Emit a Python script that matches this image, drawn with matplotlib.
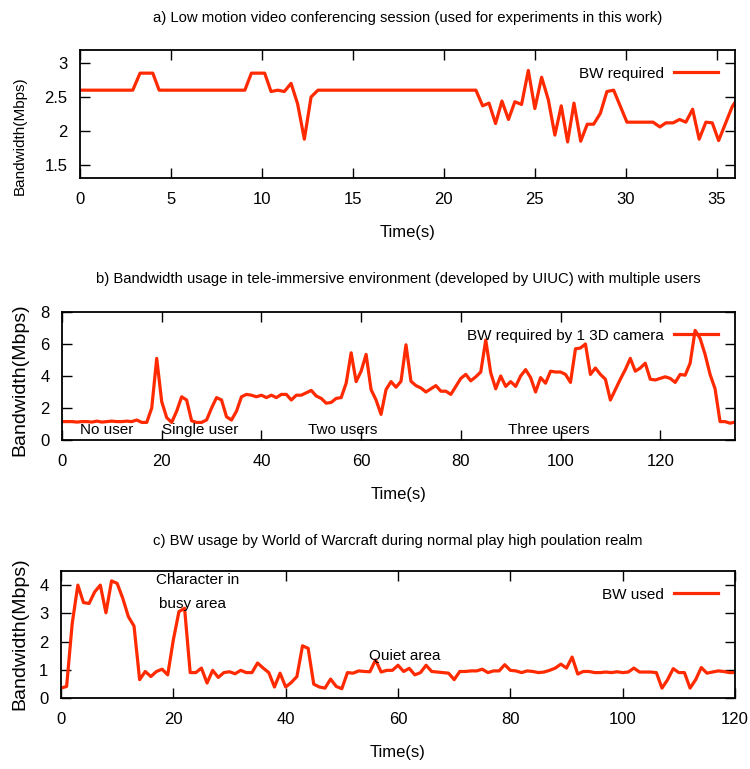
import matplotlib
matplotlib.use("Agg")
import matplotlib.pyplot as plt
from matplotlib.ticker import FuncFormatter

plt.rcParams['font.family'] = ['Liberation Sans Narrow', 'Liberation Sans', 'DejaVu Sans']

# a) video conferencing session
time_a = [0, 2.9, 3.3, 4.0, 4.35, 9.06, 9.42, 10.15, 10.5, 10.87, 11.23, 11.6,
          11.96, 12.33, 12.7, 13.08, 21.76, 22.13, 22.48, 22.84, 23.19, 23.55,
          23.9, 24.27, 24.64, 25.0, 25.37, 25.74, 26.1, 26.45, 26.8, 27.15,
          27.52, 27.88, 28.23, 28.6, 28.96, 29.33, 30.06, 31.5, 31.87, 32.2,
          32.6, 32.95, 33.3, 33.67, 34.03, 34.4, 34.75, 35.1, 35.85, 36.2]
bw_a = [2.6, 2.6, 2.85, 2.85, 2.6, 2.6, 2.85, 2.85, 2.58, 2.6, 2.58, 2.7,
        2.4, 1.88, 2.5, 2.6, 2.6, 2.37, 2.41, 2.11, 2.44, 2.17,
        2.43, 2.39, 2.89, 2.33, 2.79, 2.46, 1.94, 2.37, 1.84, 2.41,
        1.85, 2.1, 2.1, 2.26, 2.58, 2.6, 2.13, 2.13, 2.06, 2.12,
        2.12, 2.17, 2.13, 2.32, 1.88, 2.13, 2.12, 1.86, 2.36, 2.5]

# b) tele-immersive environment, one sample per second
time_b = list(range(0, 136))
bw_b = [1.15, 1.15, 1.15, 1.12, 1.15, 1.15, 1.12, 1.18, 1.12, 1.15,
        1.18, 1.15, 1.15, 1.18, 1.15, 1.25, 1.1, 1.1, 2.0, 5.1,
        2.4, 1.4, 1.1, 1.8, 2.7, 2.5, 1.2, 1.1, 1.1, 1.25,
        2.0, 2.65, 2.5, 1.45, 1.25, 1.8, 2.7, 2.85, 2.8, 2.7,
        2.8, 2.65, 2.8, 2.65, 2.85, 2.85, 2.5, 2.8, 2.8, 2.95,
        3.1, 2.75, 2.6, 2.3, 2.35, 2.6, 2.65, 3.55, 5.45, 3.65,
        4.3, 5.35, 3.15, 2.5, 1.6, 3.15, 3.65, 3.3, 3.67, 5.95,
        3.67, 3.4, 3.25, 3.0, 3.2, 3.4, 3.05, 3.05, 2.85, 3.35,
        3.85, 4.1, 3.7, 3.95, 4.25, 6.25, 4.2, 3.2, 4.0, 3.35,
        3.65, 3.35, 4.0, 4.4, 3.9, 3.0, 3.9, 3.55, 4.3, 4.25,
        4.25, 4.1, 3.6, 5.7, 5.75, 6.0, 4.1, 4.5, 4.1, 3.8,
        2.5, 3.15, 3.8, 4.4, 5.1, 4.3, 4.5, 4.8, 3.8, 3.75,
        3.85, 3.95, 3.85, 3.6, 4.1, 4.05, 4.8, 6.85, 6.35, 5.35,
        4.1, 3.2, 1.15, 1.15, 1.05, 1.12]
labels_b = ['No user', 'Single user', 'Two users', 'Three users']
label_x_b = [9, 27.7, 56.4, 97.6]

# c) World of Warcraft, one sample per second
time_c = list(range(0, 121))
bw_c = [0.35, 0.41, 2.65, 4.0, 3.38, 3.35, 3.76, 4.0, 3.02, 4.15,
        4.06, 3.53, 2.88, 2.55, 0.65, 0.94, 0.76, 0.94, 1.02, 0.82,
        2.06, 3.06, 3.18, 0.9, 0.9, 1.06, 0.53, 0.98, 0.73, 0.9,
        0.93, 0.86, 0.98, 0.9, 0.9, 1.24, 1.06, 0.9, 0.39, 0.88,
        0.39, 0.55, 0.76, 1.85, 1.76, 0.49, 0.39, 0.35, 0.67, 0.41,
        0.33, 0.9, 0.88, 0.96, 0.94, 0.93, 1.35, 0.92, 0.98, 0.98,
        1.16, 0.94, 1.05, 0.82, 0.9, 1.16, 0.94, 0.92, 0.9, 0.88,
        0.65, 0.94, 0.94, 0.96, 0.96, 1.02, 0.9, 0.96, 0.96, 1.18,
        0.98, 0.96, 0.9, 0.96, 0.94, 0.9, 0.92, 0.98, 1.06, 1.2,
        1.06, 1.45, 0.85, 0.94, 0.94, 0.9, 0.9, 0.92, 0.9, 0.93,
        0.9, 0.92, 1.06, 0.92, 0.92, 0.92, 0.9, 0.35, 0.65, 1.04,
        0.9, 0.9, 0.35, 0.65, 1.08, 0.88, 0.92, 0.96, 0.94, 0.9, 0.9]

RED = '#ff2a00'
W, H = 750, 769
TXT = 11


def px_axes(fig, left, right, top, bottom):
    return fig.add_axes([left / W, 1 - bottom / H, (right - left) / W, (bottom - top) / H])


def style(ax):
    ax.tick_params(direction='in', length=7, width=1, top=True, right=True,
                   labelsize=12)
    ax.tick_params(axis='x', pad=10)
    ax.tick_params(axis='y', pad=9)
    for s in ax.spines.values():
        s.set_linewidth(1.3)
    ax.yaxis.set_major_formatter(FuncFormatter(lambda v, p: f'{v:g}'))


def add_legend(ax):
    ax.legend(loc='upper right', frameon=False, markerfirst=False, fontsize=TXT,
              handlelength=2.9, handletextpad=0.65, borderaxespad=0.7)


fig = plt.figure(figsize=(W / 100, H / 100), dpi=100)

# panel a
ax = px_axes(fig, 80, 735, 50, 178)
ax.plot(time_a, bw_a, color=RED, lw=2.3, label='BW required')
ax.set_xlim(0, 36)
ax.set_ylim(1.31, 3.19)
ax.set_xticks(range(0, 36, 5))
ax.set_yticks([1.5, 2, 2.5, 3])
style(ax)
ax.set_title('a) Low motion video conferencing session (used for experiments in this work)',
             fontsize=10.7, pad=20)
ax.set_xlabel('Time(s)', fontsize=12, labelpad=13)
add_legend(ax)
fig.text(20 / W, 1 - 136 / H, 'Bandwidth(Mbps)', rotation=90, ha='center', va='center',
         fontsize=11, family=['Liberation Sans', 'DejaVu Sans'])

# panel b
ax = px_axes(fig, 62, 735, 312, 440)
ax.plot(time_b, bw_b, color=RED, lw=2.3, label='BW required by 1 3D camera')
ax.set_xlim(0, 135)
ax.set_ylim(0, 8)
ax.set_xticks(range(0, 121, 20))
ax.set_yticks(range(0, 9, 2))
style(ax)
ax.set_title('b) Bandwidth usage in tele-immersive environment (developed by UIUC) with multiple users',
             fontsize=10.7, pad=21)
ax.set_xlabel('Time(s)', fontsize=12, labelpad=13)
add_legend(ax)
for lab, x in zip(labels_b, label_x_b):
    ax.text(x, 0.6, lab, ha='center', va='center', fontsize=TXT)
fig.text(20 / W, 1 - 380 / H, 'Bandwidth(Mbps)', rotation=90, ha='center', va='center',
         fontsize=14, family=['Liberation Sans', 'DejaVu Sans'])

# panel c
ax = px_axes(fig, 61, 735, 571, 698)
ax.plot(time_c, bw_c, color=RED, lw=2.3, label='BW used')
ax.set_xlim(0, 120)
ax.set_ylim(0, 4.5)
ax.set_xticks(range(0, 121, 20))
ax.set_yticks(range(0, 5))
style(ax)
ax.set_title('c) BW usage by World of Warcraft during normal play high poulation realm',
             fontsize=10.7, pad=19)
ax.set_xlabel('Time(s)', fontsize=12, labelpad=13)
add_legend(ax)
ax.text(17.0, 4.18, 'Character in', ha='left', va='center', fontsize=TXT)
ax.text(17.5, 3.33, 'busy area', ha='left', va='center', fontsize=TXT)
ax.text(54.8, 1.49, 'Quiet area', ha='left', va='center', fontsize=TXT)
fig.text(20 / W, 1 - 634 / H, 'Bandwidth(Mbps)', rotation=90, ha='center', va='center',
         fontsize=14, family=['Liberation Sans', 'DejaVu Sans'])

fig.savefig('out.png', dpi=100)
